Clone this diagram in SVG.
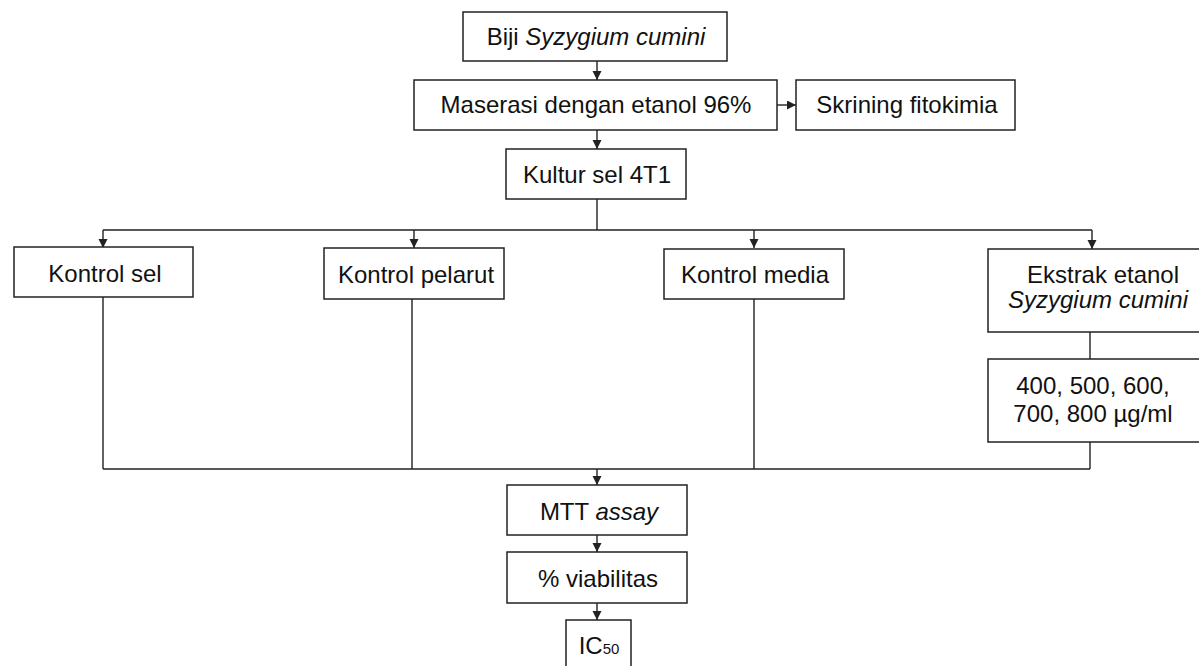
<svg xmlns="http://www.w3.org/2000/svg" width="1199" height="666" viewBox="0 0 1199 666">
<defs>
<style>
.box{fill:#fff;stroke:#222;stroke-width:1.5}
.t{font-family:"Liberation Sans",Arial,sans-serif;font-size:24px;fill:#111;text-anchor:middle}
.i{font-style:italic}
.c{fill:none;stroke:#222;stroke-width:1.4}
.a{fill:none;stroke:#222;stroke-width:1.4;marker-end:url(#ah)}
</style>
<marker id="ah" markerUnits="userSpaceOnUse" markerWidth="10" markerHeight="10" refX="9" refY="4.5" orient="auto">
<path d="M0,0 L9,4.5 L0,9 Z" fill="#222"/>
</marker>
</defs>
<rect width="1199" height="666" fill="#fff"/>

<g id="connectors">
<path class="a" d="M597,61 V80"/>
<path class="a" d="M777,105 H796"/>
<path class="a" d="M597,130 V149"/>
<path class="c" d="M597,199 V230 M103,230 H1092"/>
<path class="a" d="M103,230 V248"/>
<path class="a" d="M414,230 V248"/>
<path class="a" d="M754,230 V248"/>
<path class="a" d="M1092,230 V249"/>
<path class="c" d="M1090,332 V359"/>
<path class="c" d="M103,297 V469 M412,299 V469 M754,299 V469 M1090,442 V469 M103,469 H1090"/>
<path class="a" d="M597,469 V485"/>
<path class="a" d="M597,535 V552"/>
<path class="a" d="M597,603 V620"/>
</g>

<g id="biji">
<rect class="box" x="463" y="12" width="264" height="49"/>
<text class="t" x="596" y="45">Biji <tspan class="i">Syzygium cumini</tspan></text>
</g>
<g id="maserasi">
<rect class="box" x="414" y="80" width="363" height="50"/>
<text class="t" x="596" y="113">Maserasi dengan etanol 96%</text>
</g>
<g id="skrining">
<rect class="box" x="796" y="80" width="219" height="50"/>
<text class="t" x="907" y="113">Skrining fitokimia</text>
</g>
<g id="kultur">
<rect class="box" x="506" y="149" width="180" height="50"/>
<text class="t" x="597" y="183">Kultur sel 4T1</text>
</g>
<g id="kontrol-sel">
<rect class="box" x="14" y="247" width="179" height="50"/>
<text class="t" x="105" y="282">Kontrol sel</text>
</g>
<g id="kontrol-pelarut">
<rect class="box" x="324" y="248" width="180" height="51"/>
<text class="t" x="416" y="283">Kontrol pelarut</text>
</g>
<g id="kontrol-media">
<rect class="box" x="664" y="249" width="180" height="50"/>
<text class="t" x="755" y="283">Kontrol media</text>
</g>
<g id="ekstrak">
<rect class="box" x="988" y="249" width="220" height="83"/>
<text class="t" x="1103" y="283">Ekstrak etanol</text>
<text class="t i" x="1098" y="308">Syzygium cumini</text>
</g>
<g id="konsentrasi">
<rect class="box" x="988" y="359" width="220" height="83"/>
<text class="t" x="1093" y="394">400, 500, 600,</text>
<text class="t" x="1093" y="422">700, 800 µg/ml</text>
</g>
<g id="mtt">
<rect class="box" x="507" y="485" width="180" height="50"/>
<text class="t" x="599" y="520">MTT <tspan class="i">assay</tspan></text>
</g>
<g id="viabilitas">
<rect class="box" x="507" y="552" width="180" height="51"/>
<text class="t" x="598" y="587">% viabilitas</text>
</g>
<g id="ic50">
<rect class="box" x="566" y="620" width="65" height="60"/>
<text class="t" x="599" y="654">IC<tspan font-size="15">50</tspan></text>
</g>
</svg>
